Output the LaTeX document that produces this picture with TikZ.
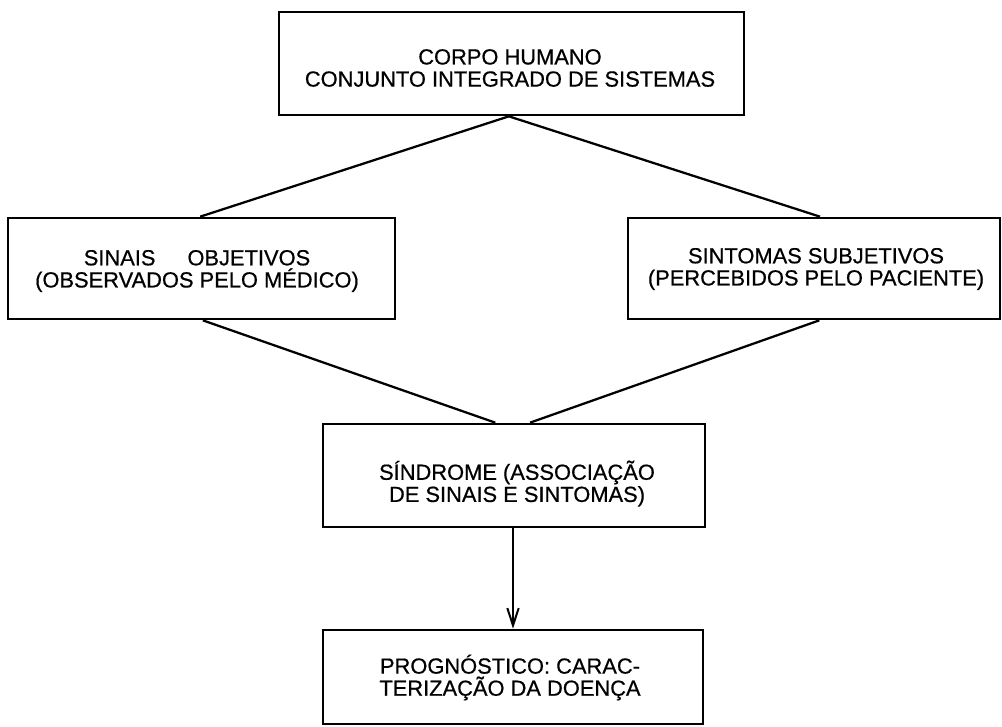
\documentclass[tikz,border=0pt]{standalone}
\usepackage{fontspec}
\setmainfont{Liberation Sans}
\newfontfamily\labelfont{Liberation Sans}[FakeBold=0.6]
\usetikzlibrary{arrows.meta}
\begin{document}
\begin{tikzpicture}[x=0.75pt,y=-0.75pt,
  box/.style={draw=black,line width=2pt,rectangle,inner sep=0pt},
  txt/.style={align=center,inner sep=0pt,font=\labelfont\fontsize{16.4}{16.6}\selectfont},
  link/.style={draw=black,line width=1.7pt},
  tip/.style={-{Straight Barb[length=13pt,width=8.5pt,line width=1.5pt]}}]
\useasboundingbox[fill=white] (0,0) rectangle (1002,726);

% boxes
\node[box,minimum width=465*0.75pt,minimum height=103*0.75pt] (corpo) at (511.5,63.5) {};
\node[box,minimum width=387*0.75pt,minimum height=101*0.75pt] (sinais) at (201.5,268.5) {};
\node[box,minimum width=372*0.75pt,minimum height=101*0.75pt] (sintomas) at (814,268.5) {};
\node[box,minimum width=382*0.75pt,minimum height=103*0.75pt] (sindrome) at (514,475.5) {};
\node[box,minimum width=380*0.75pt,minimum height=94*0.75pt] (prog) at (513,677) {};

% texts
\node[txt] (corpoT) at (510,68) {CORPO HUMANO\\CONJUNTO INTEGRADO DE SISTEMAS};
\node[txt] (sinaisT) at (197,271) {SINAIS\hspace{24pt}OBJETIVOS\\(OBSERVADOS PELO MÉDICO)};
\node[txt] (sintomasT) at (816,269) {SINTOMAS SUBJETIVOS\\(PERCEBIDOS PELO PACIENTE)};
\node[txt] (sindromeT) at (517,483.5) {SÍNDROME (ASSOCIAÇÃO\\DE SINAIS E SINTOMAS)};
\node[txt] (progT) at (510,677.5) {PROGNÓSTICO: CARAC-\\TERIZAÇÃO DA DOENÇA};

% connectors
\draw[link] ([xshift=-2pt]corpo.south) -- ([xshift=-1pt]sinais.north);
\draw[link] ([xshift=-2pt]corpo.south) -- ([xshift=4.5pt]sintomas.north);
\draw[link] ([xshift=1pt]sinais.south) -- ([xshift=-14pt]sindrome.north);
\draw[link] ([xshift=4pt]sintomas.south) -- ([xshift=12pt]sindrome.north);
\draw[link,tip] ([xshift=-0.75pt]sindrome.south) -- (prog.north);
\end{tikzpicture}
\end{document}
